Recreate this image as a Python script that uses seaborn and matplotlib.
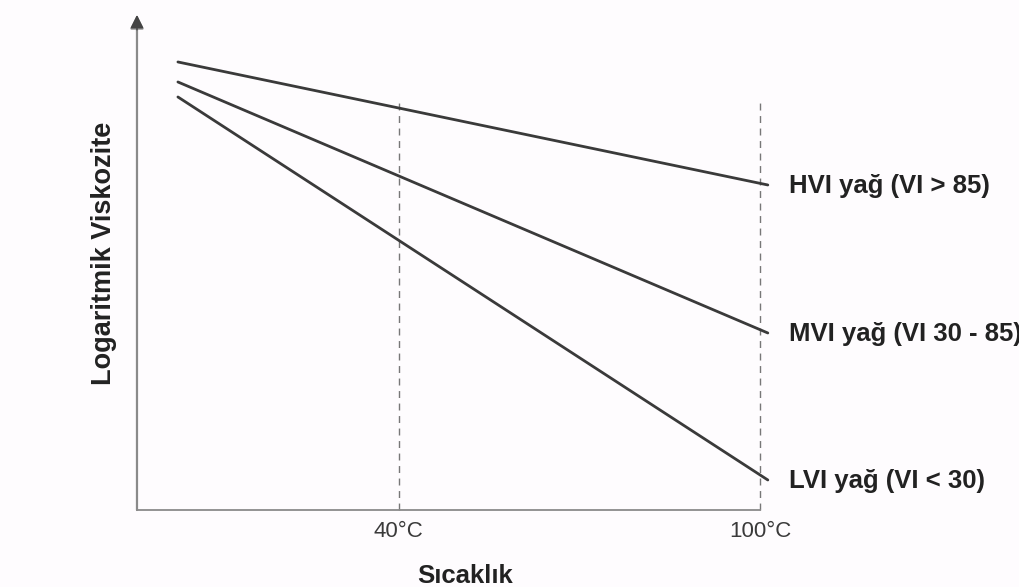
import pandas as pd
import matplotlib
matplotlib.use("Agg")
import matplotlib.pyplot as plt
import seaborn as sns

# Data (arbitrary log-viscosity units)
oils = ['HVI yağ (VI > 85)', 'MVI yağ (VI 30 - 85)', 'LVI yağ (VI < 30)']
temps = [3.3, 101.3]
hvi = [4.48, 3.25]
mvi = [4.28, 1.77]
lvi = [4.13, 0.30]
ref_temps = [40, 100]
ref_labels = ['40°C', '100°C']
ref_top = 4.12

rows = []
for name, vals in zip(oils, [hvi, mvi, lvi]):
    for t, v in zip(temps, vals):
        rows.append({'Sıcaklık': t, 'visc': v, 'oil': name})
df = pd.DataFrame(rows)

sns.set_style("white")
plt.rcParams['font.family'] = ['Liberation Sans', 'DejaVu Sans']

bg = '#fefcfe'
fig = plt.figure(figsize=(10.2, 5.87), dpi=100, facecolor=bg)
ax = fig.add_axes([0.1343, 0.1312, 0.6108, 0.8433], facecolor=bg)

# reference temperature lines
for t in ref_temps:
    ax.plot([t, t], [0, ref_top], color='#777777', lw=1.0, ls=(0, (5, 4)), zorder=1)

sns.lineplot(data=df, x='Sıcaklık', y='visc', hue='oil', palette=['#3a3a3a'] * 3,
             linewidth=2.0, legend=False, ax=ax, zorder=3)
for l in ax.lines:
    l.set_clip_on(False)

# line labels at the right end
for name, vals in zip(oils, [hvi, mvi, lvi]):
    ax.annotate(name, xy=(temps[-1], vals[-1]), xytext=(15, -1), textcoords='offset points',
                ha='left', va='center', fontsize=18.5, fontweight='bold', color='#222222',
                annotation_clip=False)

ax.set_xlim(-3.5, 100)
ax.set_ylim(0, 4.95)
ax.set_xticks(ref_temps)
ax.set_xticklabels(ref_labels, fontsize=16, color='#3a3a3a')
ax.set_yticks([])
ax.tick_params(axis='x', length=0, pad=8)

for s in ['top', 'right']:
    ax.spines[s].set_visible(False)
ax.spines['bottom'].set_color('#8a8a8a')
ax.spines['bottom'].set_linewidth(1.3)
ax.spines['left'].set_visible(False)
ax.annotate('', xy=(0, 1.0), xytext=(0, 0), xycoords='axes fraction',
            arrowprops=dict(arrowstyle='-|>', color='#8a8a8a', lw=1.6,
                            mutation_scale=20, shrinkA=0, shrinkB=0))
ax.annotate('', xy=(0, 1.0), xytext=(0, 0.97), xycoords='axes fraction',
            arrowprops=dict(arrowstyle='-|>', color='#444444', lw=1.0,
                            mutation_scale=20, shrinkA=0, shrinkB=0))

ax.set_xlabel('Sıcaklık', fontsize=18.5, fontweight='bold', color='#222222')
ax.xaxis.set_label_coords(0.527, -0.11)
ax.set_ylabel('Logaritmik Viskozite', fontsize=19.5, fontweight='bold', color='#222222')
ax.yaxis.set_label_coords(-0.032, 0.518)

fig.savefig('out.png', dpi=100, facecolor=bg)
